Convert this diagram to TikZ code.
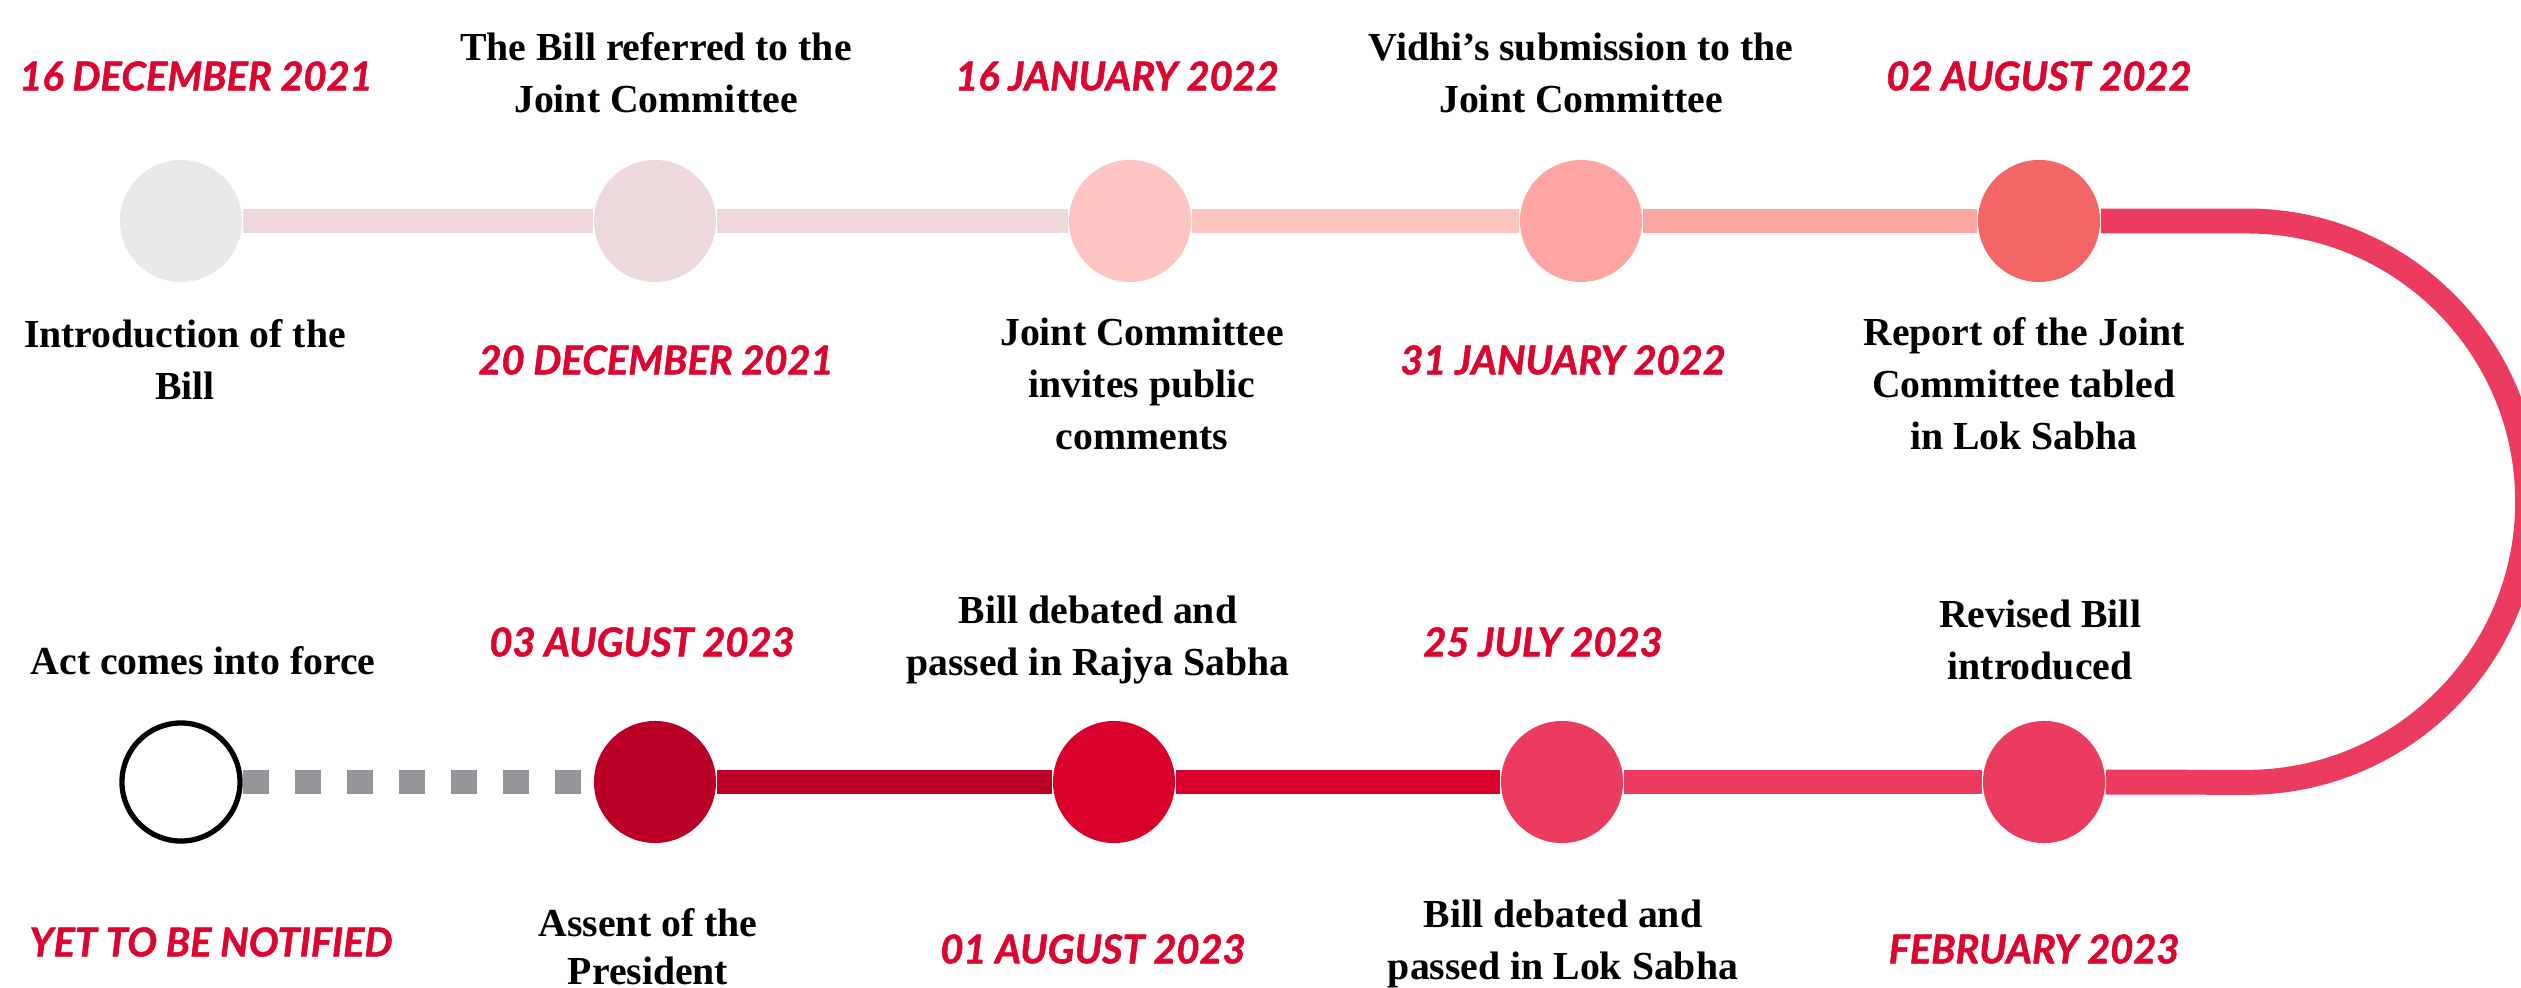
\documentclass[tikz,border=0pt]{standalone}
\usepackage{fontspec}
\setmainfont{Liberation Serif}
\newfontfamily\datefont{Lato}[BoldItalicFeatures={FakeBold=1.3}]
\usepackage{tikz}
\usetikzlibrary{calc}
\definecolor{grey0}{RGB}{235,232,232}
\definecolor{rose1}{RGB}{237,217,217}
\definecolor{rose2}{RGB}{255,196,196}
\definecolor{rose3}{RGB}{252,165,162}
\definecolor{rose4}{RGB}{242,102,102}
\definecolor{pink5}{RGB}{235,59,94}
\definecolor{red6}{RGB}{217,0,43}
\definecolor{red7}{RGB}{186,0,38}
\definecolor{dashgrey}{RGB}{147,149,152}
\definecolor{datered}{RGB}{218,6,48}
\tikzstyle{event}=[circle,minimum size=1.22cm,inner sep=0pt]
\tikzstyle{link}=[line width=7.1pt]
\tikzstyle{date}=[text=datered,font=\datefont\fontsize{11.3}{14}\selectfont\bfseries\itshape]
\tikzstyle{desc}=[align=center,font=\fontsize{11.3}{14.8}\selectfont\bfseries]

\begin{document}
\begin{tikzpicture}[x=0.01cm,y=-0.01cm]
	\useasboundingbox (0,0) rectangle (2521,988);
	% upper row
	\node[event,fill=grey0] (intro) at (181,221) {};
	\node[event,fill=rose1] (referred) at (655,221) {};
	\node[event,fill=rose2] (invites) at (1130,221) {};
	\node[event,fill=rose3] (vidhi) at (1581,221) {};
	\node[event,fill=rose4] (report) at (2039,221) {};
	% lower row
	\node[event,fill=pink5] (revised) at (2044,782) {};
	\node[event,fill=pink5] (loksabha) at (1562,782) {};
	\node[event,fill=red6] (rajyasabha) at (1114,782) {};
	\node[event,fill=red7] (assent) at (655,782) {};
	\node[event,draw=black,line width=1.5pt,minimum size=1.18cm] (inforce) at (181,782) {};
	\coordinate (turn) at (2247,221);
	\path
		(intro)	edge[link,rose1]	(referred)
		(referred)	edge[link,rose1]	(invites)
		(invites)	edge[link,rose2]	(vidhi)
		(vidhi)	edge[link,rose3]	(report)
		(revised)	edge[link,pink5]	(loksabha)
		(loksabha)	edge[link,red6]	(rajyasabha)
		(rajyasabha)	edge[link,red7]	(assent);
	\draw[link,pink5] (report) -- (turn) arc[start angle=90,end angle=-90,radius=2.805cm] -- (revised);
	\draw[link,dashgrey,dash pattern=on 7.4pt off 7.4pt] (inforce) -- (assent);
	% dates
	\node[date] (t-intro) at (196,76) {16 DECEMBER 2021};
	\node[date] (t-referred) at (656,360) {20 DECEMBER 2021};
	\node[date] (t-invites) at (1117,76) {16 JANUARY 2022};
	\node[date] (t-vidhi) at (1563,360) {31 JANUARY 2022};
	\node[date] (t-report) at (2039,76) {02 AUGUST 2022};
	\node[date] (t-revised) at (2034,949) {FEBRUARY 2023};
	\node[date] (t-loksabha) at (1543,642) {25 JULY 2023};
	\node[date] (t-rajyasabha) at (1093,949) {01 AUGUST 2023};
	\node[date] (t-assent) at (642,642) {03 AUGUST 2023};
	\node[date] (t-inforce) at (211,942) {YET TO BE NOTIFIED};
	% what happened
	\node[desc] (l-intro) at (185,360) {Introduction of the\\Bill};
	\node[desc] (l-referred) at (656,73) {The Bill referred to the\\Joint Committee};
	\node[desc] (l-invites) at (1142,384) {Joint Committee\\invites public\\comments};
	\node[desc] (l-vidhi) at (1581,73) {Vidhi’s submission to the\\Joint Committee};
	\node[desc] (l-report) at (2024,384) {Report of the Joint\\Committee tabled\\in Lok Sabha};
	\node[desc] (l-revised) at (2040,640) {Revised Bill\\introduced};
	\node[desc] (l-loksabha) at (1563,944) {Bill debated and\\passed in Lok Sabha};
	\node[desc] (l-rajyasabha) at (1098,640) {Bill debated and\\passed in Rajya Sabha};
	\node[desc,font=\fontsize{11.3}{13.6}\selectfont\bfseries] (l-assent) at (648,947) {Assent of the\\President};
	\node[desc] (l-inforce) at (203,661) {Act comes into force};
\end{tikzpicture}
\end{document}
